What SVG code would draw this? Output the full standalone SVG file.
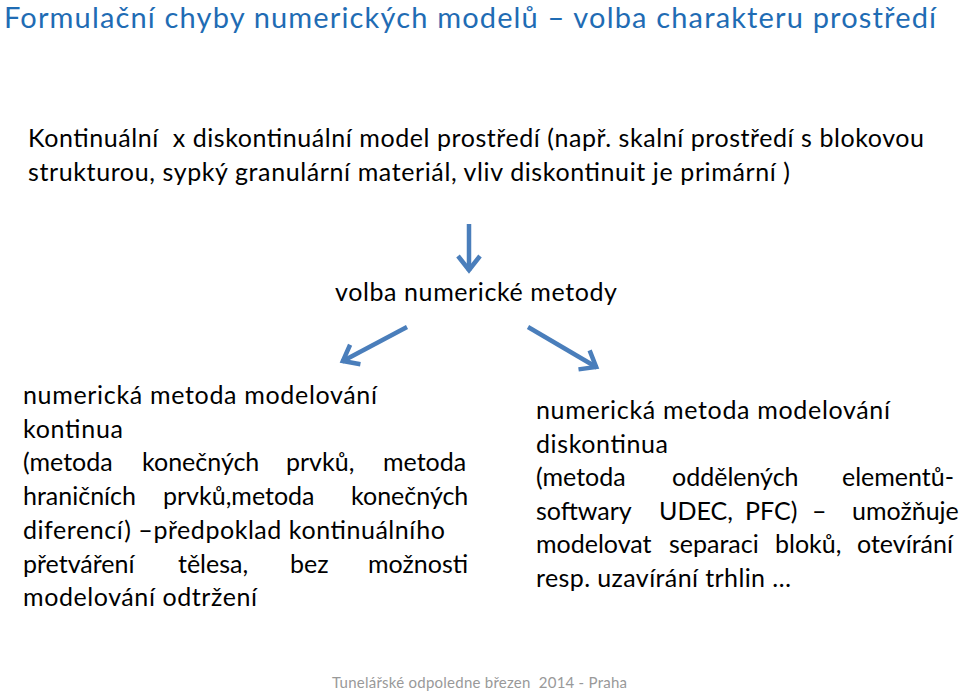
<svg xmlns="http://www.w3.org/2000/svg" width="960" height="694" viewBox="0 0 960 694">
<style>
  .t { font-family: Lato, "Liberation Sans", sans-serif; fill: #000; font-size: 25px; }
  .title { font-family: Lato, "Liberation Sans", sans-serif; fill: #1f6cb4; font-size: 29px; }
  .foot { font-family: Lato, "Liberation Sans", sans-serif; fill: #999999; font-size: 15px; }
  .arr { stroke: #4a7ebb; stroke-width: 4.5; fill: none; }
</style>
<defs>
  <marker id="head" markerUnits="userSpaceOnUse" markerWidth="40" markerHeight="40" viewBox="-20 -20 40 40" refX="0" refY="0" orient="auto">
    <path d="M-15,-11 L-1,0 L-15,11" fill="none" stroke="#4a7ebb" stroke-width="4.5" stroke-linejoin="miter" stroke-linecap="butt"/>
  </marker>
</defs>
<rect width="960" height="694" fill="#ffffff"/>

<g id="title">
  <text class="title" x="4" y="28" textLength="932" lengthAdjust="spacing">Formulační chyby numerických modelů – volba charakteru prostředí</text>
</g>

<g id="intro">
  <text class="t" x="28" y="147" textLength="896" lengthAdjust="spacing" xml:space="preserve">Kontinuální  x diskontinuální model prostředí (např. skalní prostředí s blokovou</text>
  <text class="t" x="28" y="181" textLength="762" lengthAdjust="spacing">strukturou, sypký granulární materiál, vliv diskontinuit je primární )</text>
</g>

<g id="choice">
  <text class="t" x="335" y="301" textLength="282" lengthAdjust="spacing">volba numerické metody</text>
</g>

<g id="continuum">
  <text class="t" x="23" y="404" textLength="354" lengthAdjust="spacing">numerická metoda modelování</text>
  <text class="t" x="23" y="437.7" textLength="100" lengthAdjust="spacing">kontinua</text>
  <text class="t" y="471.4"><tspan x="23">(metoda </tspan><tspan x="142">konečných </tspan><tspan x="286">prvků, </tspan><tspan x="383">metoda</tspan></text>
  <text class="t" y="505.1"><tspan x="23">hraničních </tspan><tspan x="163">prvků,metoda </tspan><tspan x="351">konečných</tspan></text>
  <text class="t" x="23" y="538.8" textLength="422" lengthAdjust="spacing">diferencí) –předpoklad kontinuálního</text>
  <text class="t" y="572.5"><tspan x="23">přetváření </tspan><tspan x="178">tělesa, </tspan><tspan x="290">bez </tspan><tspan x="368">možnosti</tspan></text>
  <text class="t" x="23" y="606.2" textLength="234" lengthAdjust="spacing">modelování odtržení</text>
</g>

<g id="discontinuum">
  <text class="t" x="536" y="419" textLength="354" lengthAdjust="spacing">numerická metoda modelování</text>
  <text class="t" x="536" y="452.5" textLength="132" lengthAdjust="spacing">diskontinua</text>
  <text class="t" y="486"><tspan x="536">(metoda </tspan><tspan x="672">oddělených </tspan><tspan x="842">elementů-</tspan></text>
  <text class="t" y="519.5"><tspan x="536">softwary </tspan><tspan x="659">UDEC, </tspan><tspan x="745">PFC) </tspan><tspan x="812">– </tspan><tspan x="852">umožňuje</tspan></text>
  <text class="t" y="553"><tspan x="536">modelovat </tspan><tspan x="669">separaci </tspan><tspan x="775">bloků, </tspan><tspan x="857">otevírání</tspan></text>
  <text class="t" x="536" y="586.5" textLength="255" lengthAdjust="spacing">resp. uzavírání trhlin …</text>
</g>

<g id="footer">
  <text class="foot" x="332" y="688" textLength="295" lengthAdjust="spacing" xml:space="preserve">Tunelářské odpoledne březen  2014 - Praha</text>
</g>

<g id="connectors">
  <line class="arr" x1="469" y1="224" x2="469" y2="271" marker-end="url(#head)"/>
  <line class="arr" x1="407" y1="327" x2="342" y2="361.5" marker-end="url(#head)"/>
  <line class="arr" x1="528" y1="327" x2="597" y2="367.5" marker-end="url(#head)"/>
</g>
</svg>
